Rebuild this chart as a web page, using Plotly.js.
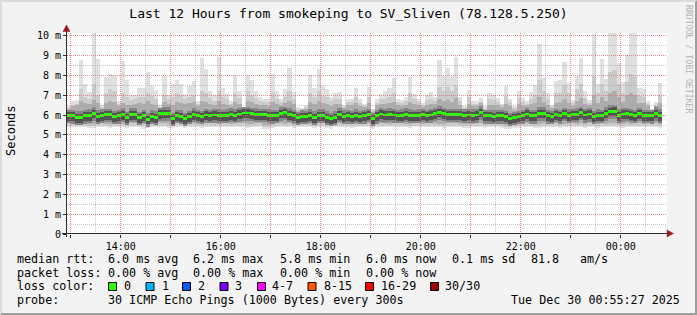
<!DOCTYPE html>
<html><head><meta charset="utf-8">
<script src="https://cdn.plot.ly/plotly-3.0.1.min.js"></script>
<style>
html,body{margin:0;padding:0;background:#f3f3f3;}
#wrap{position:relative;width:697px;height:315px;overflow:hidden;}
#chart{width:697px;height:315px;}
#frame{position:absolute;left:0;top:0;width:697px;height:315px;box-sizing:border-box;border-left:2px solid #dcdcdc;border-top:2px solid #dcdcdc;border-right:2px solid #9e9e9e;border-bottom:2px solid #9e9e9e;pointer-events:none;}
</style></head>
<body><div id="wrap"><div id="chart"></div><div id="frame"></div></div>
<script>
// ---- time axis (hours of day; 24 = midnight) ----
const START_H = 12 + 55/60;          // first 5-minute sample starts 12:55
const STEP_H = 5/60;                 // 300 s step
const X_RANGE = [12 + 55/60 + 27/3600, 24 + 55/60 + 27/3600];
const Y_RANGE = [0, 10.15];

const hourTicks  = [13,14,15,16,17,18,19,20,21,22,23,24];
const hourLabels = ['','14:00','','16:00','','18:00','','20:00','','22:00','','00:00'];
const yTicks  = [0,1,2,3,4,5,6,7,8,9,10];
const yLabels = ['0','1 m','2 m','3 m','4 m','5 m','6 m','7 m','8 m','9 m','10 m'];

// ---- per-sample smoke (ms) ----
const maxV = [6.45,6.7,6.75,8.8,7.55,7.15,10.2,8.85,6.5,7.95,8.1,8.05,6.7,8.74,7.78,7.0,7.0,7.35,7.35,8.2,7.45,7.26,6.5,8.0,7.0,7.55,7.78,7.6,7.09,7.48,7.72,6.7,8.88,8.35,7.21,7.0,
 8.96,7.35,7.09,6.7,8.03,7.2,6.4,8.03,7.78,7.2,6.92,6.84,6.84,8.06,7.2,6.84,7.3,8.4,7.15,6.4,6.35,6.5,8.03,7.35,8.34,7.48,7.3,6.92,7.14,7.15,6.5,6.84,6.84,7.35,6.8,6.58,
 7.43,6.3,6.8,7.09,7.2,7.35,7.86,6.84,6.75,6.92,7.93,7.09,6.84,6.63,7.04,7.15,6.92,8.78,7.98,8.37,8.0,8.94,6.92,6.45,7.28,6.7,6.7,6.88,6.45,7.14,7.0,6.88,6.58,7.47,6.84,6.45,
 7.2,6.88,6.7,7.15,7.52,9.59,7.9,7.12,6.5,7.72,7.78,8.67,7.65,6.75,7.98,8.88,7.2,6.75,10.1,7.6,8.83,7.82,10.2,10.2,8.62,7.69,9.05,10.2,10.2,7.38,7.3,6.7,6.3,6.68,7.65];
const u2 = [6.35,6.5,6.55,7.3,6.9,6.8,7.6,7.0,6.4,7.1,7.3,7.2,6.55,7.1,6.9,6.75,6.8,6.9,6.9,7.1,6.95,6.8,6.4,7.0,6.8,6.9,7.1,7.0,6.8,6.9,7.0,6.55,7.2,7.1,6.85,6.7,
 7.2,6.9,6.8,6.55,7.1,6.85,6.35,7.2,7.0,6.85,6.7,6.65,6.65,7.1,6.8,6.65,6.9,7.2,6.8,6.3,6.3,6.4,7.1,6.9,7.2,6.95,6.9,6.7,6.8,6.8,6.4,6.65,6.65,6.9,6.6,6.45,
 6.9,6.25,6.6,6.8,6.8,6.9,7.1,6.65,6.6,6.7,7.1,6.8,6.65,6.5,6.75,6.8,6.7,7.4,7.2,7.4,7.2,7.5,6.7,6.35,6.9,6.55,6.55,6.65,6.35,6.8,6.75,6.65,6.45,6.95,6.65,6.35,
 6.85,6.65,6.55,6.8,7.0,7.8,7.2,6.8,6.4,7.1,7.1,7.5,7.1,6.6,7.3,7.6,6.85,6.6,8.0,7.1,7.6,7.2,8.2,8.3,7.6,7.1,7.7,8.1,8.0,6.95,6.9,6.55,6.25,6.5,7.0];
const u3 = [6.30,6.45,6.50,6.70,6.60,6.55,6.75,6.60,6.30,6.60,6.70,6.65,6.45,6.60,6.50,6.50,6.55,6.60,6.55,6.70,6.55,6.50,6.30,6.65,6.55,6.50,6.65,6.60,6.55,6.60,6.65,6.45,6.70,6.65,6.55,6.50,
 6.70,6.55,6.50,6.45,6.65,6.55,6.28,6.70,6.65,6.55,6.50,6.50,6.45,6.65,6.55,6.50,6.60,6.70,6.55,6.22,6.22,6.30,6.65,6.55,6.70,6.60,6.55,6.45,6.55,6.55,6.35,6.50,6.50,6.60,6.45,6.40,
 6.60,6.18,6.50,6.55,6.55,6.60,6.65,6.50,6.45,6.50,6.65,6.55,6.50,6.40,6.50,6.55,6.55,6.80,6.70,6.75,6.65,6.85,6.50,6.30,6.55,6.45,6.45,6.60,6.28,6.50,6.50,6.50,6.40,6.55,6.45,6.28,
 6.55,6.45,6.45,6.55,6.60,6.90,6.65,6.50,6.35,6.60,6.65,6.80,6.60,6.45,6.70,6.85,6.55,6.50,7.00,6.60,6.90,6.70,7.10,7.20,6.90,6.65,7.00,7.10,7.00,6.60,6.60,6.45,6.18,6.45,6.60];
const med = [5.98,5.96,5.89,5.89,5.96,5.99,6.10,5.94,5.99,6.03,6.03,5.93,5.96,6.04,5.86,6.04,6.04,5.88,5.98,5.79,5.94,5.89,6.08,6.10,6.10,5.83,5.98,5.94,5.83,5.93,6.04,5.98,5.93,6.01,5.98,6.01,
 5.99,5.98,5.99,6.04,5.99,6.06,6.11,6.11,6.08,6.04,6.03,6.03,5.99,5.96,5.98,6.10,6.13,6.04,5.96,5.88,5.94,5.93,5.99,5.89,5.99,5.99,5.89,5.83,5.89,6.04,5.94,5.96,5.91,5.99,5.93,5.96,
 6.03,5.83,5.96,6.06,6.01,6.04,6.01,5.98,5.99,6.04,5.99,5.98,5.99,6.03,5.98,6.01,6.08,6.15,6.08,6.03,6.03,6.03,6.03,5.99,6.01,5.99,6.01,6.15,5.96,5.96,5.94,5.96,5.96,5.91,5.83,5.86,
 5.93,5.96,6.06,5.96,5.96,6.10,6.10,5.96,5.93,6.03,5.96,6.08,5.99,6.03,6.04,6.13,6.01,6.06,5.93,5.99,5.98,6.10,6.20,6.21,5.99,6.06,6.08,6.03,5.98,6.08,5.98,5.98,5.96,6.10,5.99];
const l3 = [5.60,5.62,5.58,5.57,5.60,5.56,5.56,5.60,5.62,5.58,5.57,5.58,5.61,5.58,5.54,5.60,5.62,5.56,5.53,5.54,5.60,5.57,5.62,5.60,5.56,5.54,5.60,5.58,5.54,5.59,5.62,5.58,5.56,5.60,5.62,5.60,
 5.58,5.60,5.62,5.58,5.60,5.62,5.60,5.56,5.58,5.60,5.62,5.52,5.50,5.56,5.60,5.62,5.58,5.60,5.56,5.58,5.62,5.60,5.58,5.56,5.60,5.62,5.55,5.53,5.58,5.60,5.62,5.60,5.56,5.58,5.60,5.62,
 5.60,5.52,5.58,5.60,5.62,5.58,5.60,5.62,5.60,5.58,5.56,5.60,5.62,5.58,5.60,5.62,5.60,5.58,5.56,5.60,5.62,5.60,5.58,5.56,5.55,5.58,5.60,5.62,5.56,5.58,5.60,5.58,5.55,5.52,5.50,5.54,
 5.56,5.60,5.62,5.58,5.55,5.56,5.60,5.62,5.58,5.60,5.56,5.58,5.60,5.62,5.58,5.60,5.56,5.60,5.58,5.56,5.60,5.58,5.62,5.60,5.58,5.56,5.60,5.58,5.62,5.60,5.58,5.60,5.62,5.60,5.56];
const l2 = [5.50,5.52,5.48,5.48,5.50,5.46,5.46,5.50,5.52,5.48,5.47,5.50,5.52,5.48,5.45,5.50,5.52,5.48,5.44,5.44,5.50,5.48,5.52,5.50,5.46,5.45,5.50,5.48,5.45,5.50,5.52,5.48,5.46,5.50,5.52,5.50,
 5.48,5.50,5.52,5.48,5.50,5.52,5.50,5.46,5.48,5.50,5.52,5.42,5.40,5.46,5.50,5.52,5.48,5.50,5.46,5.50,5.52,5.50,5.48,5.46,5.50,5.52,5.45,5.43,5.48,5.50,5.52,5.50,5.46,5.48,5.50,5.52,
 5.50,5.42,5.48,5.50,5.52,5.48,5.50,5.52,5.50,5.48,5.46,5.50,5.52,5.48,5.50,5.52,5.50,5.48,5.46,5.50,5.52,5.50,5.48,5.46,5.45,5.48,5.50,5.52,5.46,5.48,5.50,5.48,5.45,5.42,5.40,5.44,
 5.46,5.50,5.52,5.48,5.45,5.46,5.50,5.52,5.48,5.50,5.46,5.48,5.50,5.52,5.48,5.50,5.46,5.50,5.48,5.46,5.50,5.48,5.52,5.50,5.48,5.46,5.50,5.48,5.52,5.50,5.48,5.50,5.52,5.50,5.46];
const minV = [5.40,5.42,5.40,5.38,5.40,5.35,5.36,5.40,5.42,5.38,5.36,5.40,5.42,5.38,5.35,5.40,5.42,5.38,5.32,5.34,5.40,5.38,5.42,5.40,5.36,5.34,5.40,5.38,5.35,5.40,5.42,5.38,5.36,5.40,5.42,5.40,
 5.38,5.40,5.42,5.38,5.40,5.42,5.40,5.36,5.38,5.40,5.42,5.30,5.28,5.36,5.40,5.42,5.38,5.40,5.36,5.40,5.42,5.40,5.38,5.36,5.40,5.42,5.35,5.32,5.38,5.40,5.42,5.40,5.36,5.38,5.40,5.42,
 5.40,5.32,5.38,5.40,5.42,5.38,5.40,5.42,5.40,5.38,5.36,5.40,5.42,5.38,5.40,5.42,5.40,5.38,5.36,5.40,5.42,5.40,5.38,5.36,5.34,5.38,5.40,5.42,5.36,5.38,5.40,5.38,5.34,5.32,5.30,5.34,
 5.36,5.40,5.42,5.38,5.34,5.36,5.40,5.42,5.38,5.40,5.36,5.38,5.40,5.42,5.38,5.40,5.36,5.40,5.38,5.36,5.40,5.38,5.42,5.40,5.38,5.36,5.40,5.38,5.42,5.40,5.38,5.40,5.42,5.40,5.36];

// ---- legend texts ----
const title = 'Last 12 Hours from smokeping to SV_Sliven (78.128.5.250)';
const rttStats  = ['6.0 ms avg','6.2 ms max','5.8 ms min','6.0 ms now','0.1 ms sd','81.8','am/s'];
const lossStats = ['0.00 % avg','0.00 % max','0.00 % min','0.00 % now'];
const lossLabels = ['0','1','2','3','4-7','8-15','16-29','30/30'];
const lossColors = ['#26ff00','#00b8ff','#0059ff','#7e00ff','#ff00ff','#ff5500','#ff0000','#a10000'];
const probeText = '30 ICMP Echo Pings (1000 Bytes) every 300s';
const stampText = 'Tue Dec 30 00:55:27 2025';

// ---- geometry ----
const L = 67, T = 33, W = 600, H = 201, FW = 697, FH = 315;
const px = x => (x - L) / W;
const py = y => (T + H - y) / H;
const MONO = 'DejaVu Sans Mono';

const xc = med.map((_, i) => START_H + (i + 0.5) * STEP_H);
function band(lo, hi, color) {
  return {type:'bar', x:xc, base:lo, y:hi.map((v,i)=>v-lo[i]), width:STEP_H,
          marker:{color:color, line:{width:0}}, hoverinfo:'skip', showlegend:false};
}
const off = (arr, d) => arr.map(v => v + d);
const traces = [
  band(minV, maxV, '#e0e0e0'),
  band(l2, u2, '#cbcbcb'),
  band(l3, u3, '#adadad'),
  band(off(med,-0.38), off(med,0.30), '#868686'),
  band(off(med,-0.26), off(med,0.18), '#525252'),
  band(off(med,-0.075), off(med,0.075), '#26ff00')
];

// ---- grid / axes as shapes above the smoke ----
const shapes = [];
const MAJ = 'rgba(225,105,105,0.75)', MIN = 'rgba(160,160,160,0.6)';
const xpix = h => Math.floor(L + (h - X_RANGE[0]) * W / (X_RANGE[1] - X_RANGE[0])) + 0.5;
const ypix = v => Math.floor(T + H - v * H / Y_RANGE[1]) + 0.5;
function vline(p, color){ shapes.push({type:'line', xref:'paper', yref:'paper', x0:px(p), x1:px(p), y0:py(T+H), y1:py(T), line:{color:color,width:1,dash:'1px,1px'}, layer:'above'}); }
function hline(p, color){ shapes.push({type:'line', xref:'paper', yref:'paper', x0:px(L), x1:px(L+W), y0:py(p), y1:py(p), line:{color:color,width:1,dash:'1px,1px'}, layer:'above'}); }
for (let h = 13.5; h < X_RANGE[1]; h += 1) vline(xpix(h), MIN);
hourTicks.forEach(h => vline(xpix(h), MAJ));
for (let v = 0.5; v < 10; v += 1) hline(ypix(v), MIN);
yTicks.slice(1).forEach(v => hline(ypix(v), MAJ));
const AX = '#303030', ARW = '#9b1c1c';
shapes.push({type:'line', xref:'paper', yref:'paper', x0:px(62), x1:px(668), y0:py(233.5), y1:py(233.5), line:{color:AX,width:1}, layer:'above'});
shapes.push({type:'line', xref:'paper', yref:'paper', x0:px(66.5), x1:px(66.5), y0:py(237), y1:py(30), line:{color:AX,width:1}, layer:'above'});
const P = (x,y) => px(x) + ',' + py(y);
shapes.push({type:'path', xref:'paper', yref:'paper', path:'M'+P(667,230)+' L'+P(673.5,233.5)+' L'+P(667,237)+' Z', fillcolor:ARW, line:{color:ARW,width:0.5}, layer:'above'});
shapes.push({type:'path', xref:'paper', yref:'paper', path:'M'+P(63,31.5)+' L'+P(66.5,25)+' L'+P(70,31.5)+' Z', fillcolor:ARW, line:{color:ARW,width:0.5}, layer:'above'});

// ---- texts ----
const ann = [];
function txt(x, y, s, o) {
  ann.push(Object.assign({xref:'paper', yref:'paper', x:px(x), y:py(y), text:s, showarrow:false,
    xanchor:'left', yanchor:'middle', borderpad:0, font:{family:MONO, size:11.7, color:'#000'}}, o||{}));
}
const colX = [107, 192, 278.5, 364.5, 450.5, 529.5, 578.5];
txt(15.5, 259, 'median rtt:');
rttStats.forEach((s,i) => txt(colX[i], 259, s));
txt(15.5, 272.5, 'packet loss:');
lossStats.forEach((s,i) => txt(colX[i], 272.5, s));
txt(15.5, 286, 'loss color:');
const boxX = [108, 145.5, 182, 219.5, 257, 307.5, 365, 430];
const labX = [122.5, 160.5, 196.5, 233.5, 270.5, 322.5, 379.5, 444];
lossLabels.forEach((s,i) => {
  shapes.push({type:'rect', xref:'paper', yref:'paper', x0:px(boxX[i]+0.5), x1:px(boxX[i]+8.5), y0:py(290.5), y1:py(282.5),
    fillcolor:lossColors[i], line:{color:'#000',width:1}, layer:'above'});
  txt(labX[i], 286, s);
});
txt(15.5, 300, 'probe:');
txt(107, 300, probeText);
txt(680.5, 300, stampText, {xanchor:'right'});
txt(11, 131, 'Seconds', {xanchor:'center', textangle:-90, font:{family:MONO, size:12, color:'#000'}});
txt(689, 59, 'RRDTOOL / TOBI OETIKER', {xanchor:'center', textangle:90, font:{family:MONO, size:8.2, color:'#b4b4b4'}});

const layout = {
  width:FW, height:FH, margin:{l:L, r:FW-L-W, t:T, b:FH-T-H, pad:0},
  paper_bgcolor:'#f3f3f3', plot_bgcolor:'#ffffff',
  barmode:'overlay', bargap:0, showlegend:false,
  font:{family:MONO, size:10, color:'#000'},
  title:{text:title, font:{family:MONO, size:13, color:'#000'}, x:0.5, xref:'container', xanchor:'center',
         y:1-13/FH, yref:'container', yanchor:'middle'},
  xaxis:{range:X_RANGE, tickmode:'array', tickvals:hourTicks, ticktext:hourLabels, ticks:'outside', ticklen:3,
         tickcolor:AX, showgrid:false, zeroline:false, showline:false, fixedrange:true,
         tickfont:{family:MONO, size:10, color:'#000'}},
  yaxis:{range:Y_RANGE, tickmode:'array', tickvals:yTicks, ticktext:yLabels, ticks:'outside', ticklen:3,
         tickcolor:AX, showgrid:false, zeroline:false, showline:false, fixedrange:true,
         tickfont:{family:MONO, size:10, color:'#000'}},
  shapes:shapes, annotations:ann
};
Plotly.newPlot('chart', traces, layout, {staticPlot:true, displayModeBar:false});
</script></body></html>
